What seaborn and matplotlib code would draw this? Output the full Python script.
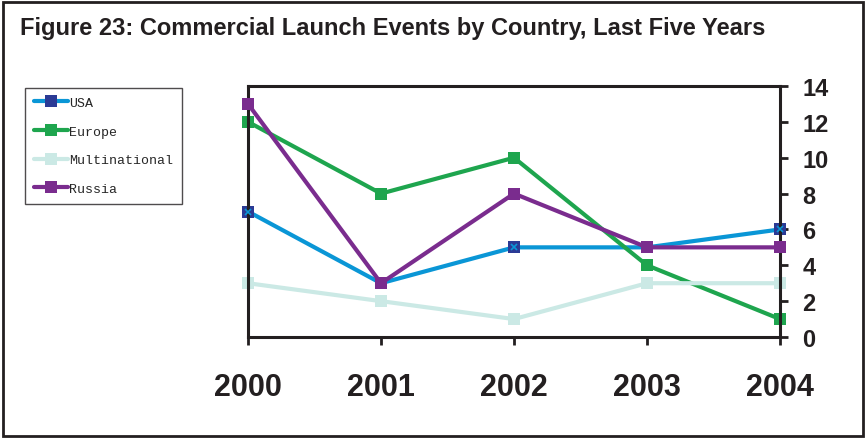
import pandas as pd
import seaborn as sns
import matplotlib.pyplot as plt
from matplotlib.lines import Line2D
from matplotlib.patches import Rectangle

# Data
years = [2000, 2001, 2002, 2003, 2004]
usa = [7, 3, 5, 5, 6]
europe = [12, 8, 10, 4, 1]
multinational = [3, 2, 1, 3, 3]
russia = [13, 3, 8, 5, 5]
countries = ["USA", "Europe", "Multinational", "Russia"]
y_ticks = [0, 2, 4, 6, 8, 10, 12, 14]

colors = {
    "USA": "#0a96d6",
    "Europe": "#1ea54e",
    "Multinational": "#cbe9e5",
    "Russia": "#7a2c8e",
}
usa_marker = "#2b3a95"

# Long-form table for seaborn
rows = []
for name, vals in zip(countries, [usa, europe, multinational, russia]):
    for yr, v in zip(years, vals):
        rows.append({"year": yr, "launches": v, "country": name})
data = pd.DataFrame(rows)

sns.set_style("white")
plt.rcParams["font.family"] = ["Liberation Sans", "DejaVu Sans"]

fig = plt.figure(figsize=(8.67, 4.39), dpi=100)
ax = fig.add_axes([248 / 867, 1 - 338 / 439, (780 - 248) / 867, (338 - 87) / 439])

sns.lineplot(
    data=data, x="year", y="launches", hue="country", hue_order=countries,
    style="country", style_order=countries, markers={c: "s" for c in countries},
    dashes=False, palette=colors, linewidth=3, markersize=9,
    markeredgewidth=0, legend=False, ax=ax, clip_on=False,
)
# USA uses a dark square with a light cross
ax.lines[0].set_markerfacecolor(usa_marker)
ax.plot(years, usa, linestyle="none", marker="x", markersize=4,
        markeredgewidth=1.2, color=colors["USA"], zorder=5, clip_on=False)
# keep Russia on top of the USA crosses, as in the original
ax.lines[3].set_zorder(6)

ax.set_xlim(years[0], years[-1])
ax.set_ylim(0, 14)
ax.set_xticks(years)
ax.set_xticklabels([str(y) for y in years])
ax.set_yticks(y_ticks)
ax.yaxis.tick_right()
ax.set_xlabel("")
ax.set_ylabel("")
ax.tick_params(axis="x", direction="out", length=6, width=2, pad=19,
               labelsize=22, bottom=True, colors="#231f20")
ax.tick_params(axis="y", direction="out", length=6, width=2, pad=10,
               labelsize=17, right=True, left=False, colors="#231f20")
for lab in ax.get_xticklabels() + ax.get_yticklabels():
    lab.set_fontweight("bold")
for s in ax.spines.values():
    s.set_visible(True)
    s.set_color("#231f20")
    s.set_linewidth(2.2)

# Legend box at left
handles = []
for c in countries:
    face = usa_marker if c == "USA" else colors[c]
    handles.append(Line2D([0], [0], color=colors[c], linewidth=3, marker="s",
                          markersize=9, markerfacecolor=face, markeredgewidth=0))
leg = fig.legend(handles, countries, loc="upper left",
                 bbox_to_anchor=(25 / 867, 1 - 89 / 439), borderaxespad=0,
                 frameon=True, fancybox=False, edgecolor="#231f20",
                 prop={"family": "Liberation Mono", "size": 9.5},
                 handlelength=2.6, handletextpad=0.1, labelspacing=1.25,
                 borderpad=0.65)
leg.get_frame().set_linewidth(1)

fig.text(20 / 867, 1 - 28 / 439,
         "Figure 23: Commercial Launch Events by Country, Last Five Years",
         fontsize=17, fontweight="bold", color="#231f20", va="center", ha="left")

# Outer frame round the whole figure
fig.patches.append(Rectangle((3 / 867, 2 / 439), 860 / 867, 434 / 439,
                             transform=fig.transFigure, fill=False,
                             edgecolor="#231f20", linewidth=2))

fig.savefig("out.png", dpi=100)
